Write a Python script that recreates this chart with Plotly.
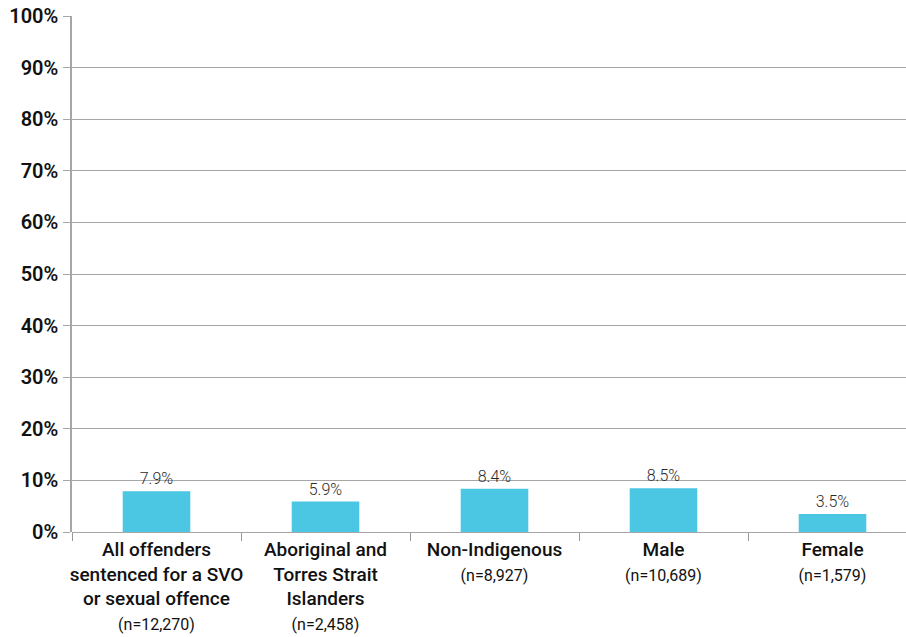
import plotly.graph_objects as go

categories = ["All offenders<br>sentenced for a SVO<br>or sexual offence",
              "Aboriginal and<br>Torres Strait<br>Islanders",
              "Non-Indigenous", "Male", "Female"]
counts = ["n=12,270", "n=2,458", "n=8,927", "n=10,689", "n=1,579"]
values = [7.9, 5.9, 8.4, 8.5, 3.5]
value_labels = ["7.9%", "5.9%", "8.4%", "8.5%", "3.5%"]
y_ticks = [0, 10, 20, 30, 40, 50, 60, 70, 80, 90, 100]
y_ticklabels = [f"{v}%" for v in y_ticks]

ticktext = [f"{c}<br><span style='font-size:16px;font-weight:400'>({n})</span>" for c, n in zip(categories, counts)]

fig = go.Figure(go.Bar(
    x=list(range(len(values))), y=values,
    marker=dict(color="#4BC6E3", line=dict(width=0)),
    width=0.40,
    text=value_labels, textposition="outside",
    textfont=dict(family="Roboto", size=16, color="#2a2a2a", weight=300),
    cliponaxis=False,
))

fig.update_layout(
    width=906, height=637,
    margin=dict(l=72, r=0, t=16, b=105),
    plot_bgcolor="white", paper_bgcolor="white",
    showlegend=False,
    font=dict(family="Roboto", color="#111111"),
)
fig.update_xaxes(
    range=[-0.5, (906 - 72) / 169 - 0.5],
    tickmode="array", tickvals=list(range(len(values))), ticktext=ticktext,
    tickfont=dict(family="Roboto", size=19, color="#111111", weight=500),
    ticklabelstandoff=4,
    showgrid=False, showline=False, zeroline=False,
    ticks="", fixedrange=True,
)
# boundary tick marks via minor ticks
fig.update_xaxes(minor=dict(tickmode="array", tickvals=[-0.5, 0.5, 1.5, 2.5, 3.5],
                            ticks="outside", ticklen=8, tickcolor="#999999", tickwidth=1))
fig.update_yaxes(
    range=[0, 100], tickmode="array", tickvals=y_ticks,
    ticktext=y_ticklabels,
    tickfont=dict(family="Roboto", size=20, color="#111111", weight=600),
    ticklabelstandoff=1,
    showgrid=True, gridcolor="#A6A6A6", gridwidth=1,
    showline=True, linecolor="#A6A6A6", linewidth=1.5,
    ticks="outside", ticklen=7, tickcolor="#A6A6A6",
    zeroline=True, zerolinecolor="#A6A6A6", zerolinewidth=1,
)

fig.write_html("out.html")
